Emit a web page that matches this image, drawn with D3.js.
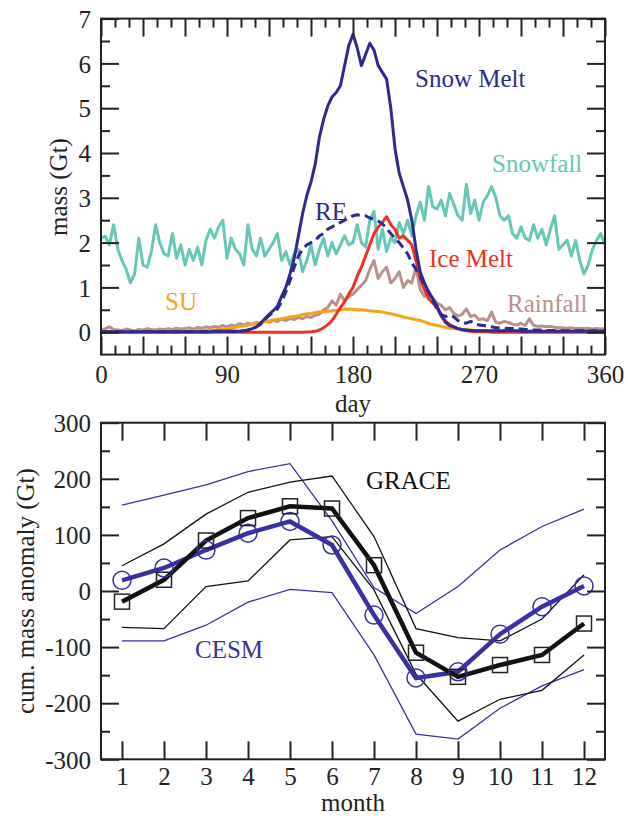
<!DOCTYPE html>
<html>
<head>
<meta charset="utf-8">
<script src="https://cdn.jsdelivr.net/npm/d3@7"></script>
<style>
  body { margin: 0; background: #fff; }
  text { font-family: "Liberation Serif", "Times New Roman", serif; }
</style>
</head>
<body>
<div class="start"></div>
<script>
// ---- top panel: daily mass fluxes (sampled every 3 days) ----
var days = d3.range(0, 361, 3);

var snowfall = [
  2.1, 2.14, 1.95, 2.4, 1.85, 1.6, 1.4, 1.1, 1.3, 2.1,
  1.5, 1.45, 1.8, 2.4, 2.0, 1.75, 1.7, 2.2, 1.65, 1.95,
  1.5, 1.85, 1.6, 1.9, 1.5, 2.05, 2.3, 2.1, 2.35, 2.5,
  1.65, 2.1, 1.85, 1.75, 1.5, 2.4, 1.85, 1.7, 2.1, 1.7,
  1.85, 2.0, 2.2, 1.6, 1.8, 1.5, 1.75, 1.85, 1.35, 1.6,
  1.95, 1.5, 1.85, 2.1, 1.7, 2.0, 1.75, 1.95, 2.15, 1.95,
  2.0, 2.4, 2.0, 1.9, 2.5, 2.7, 1.85, 2.3, 1.8, 2.1,
  2.0, 2.45, 2.2, 2.5, 2.15, 2.6, 2.9, 2.5, 3.25, 2.8,
  2.75, 2.95, 2.6, 3.1, 2.85, 2.6, 2.5, 3.3, 2.65, 2.95,
  2.5, 2.9, 3.05, 3.25, 3.0, 2.6, 2.5, 2.6, 2.2, 2.1,
  2.35, 2.1, 2.05, 2.4, 2.1, 2.3, 1.95, 2.3, 2.6, 1.85,
  1.95, 2.05, 1.7, 2.05, 1.6, 1.3, 1.5, 1.85, 2.05, 2.2,
  1.95
];

var snowMelt = [
  0.01, 0.01, 0.01, 0.01, 0.01, 0.01, 0.01, 0.01, 0.01, 0.01,
  0.01, 0.01, 0.01, 0.01, 0.01, 0.01, 0.01, 0.01, 0.01, 0.01,
  0.01, 0.01, 0.01, 0.01, 0.01, 0.01, 0.01, 0.02, 0.02, 0.02,
  0.02, 0.02, 0.02, 0.02, 0.03, 0.05, 0.08, 0.12, 0.2, 0.3,
  0.4, 0.48, 0.58, 0.8, 1.0, 1.3, 1.65, 2.15, 2.65, 3.05,
  3.35, 3.75, 4.35, 4.75, 5.05, 5.25, 5.35, 5.5, 5.95, 6.4,
  6.65, 6.35, 5.95, 6.2, 6.45, 6.3, 5.95, 5.8, 5.65, 5.0,
  4.1, 3.55, 3.25, 2.95, 2.5, 1.85, 1.35, 1.1, 0.9, 0.75,
  0.58, 0.38, 0.22, 0.15, 0.12, 0.08, 0.06, 0.05, 0.04, 0.03,
  0.03, 0.03, 0.03, 0.03, 0.03, 0.03, 0.03, 0.03, 0.03, 0.03,
  0.02, 0.02, 0.02, 0.02, 0.02, 0.02, 0.02, 0.02, 0.02, 0.02,
  0.02, 0.02, 0.02, 0.02, 0.02, 0.02, 0.02, 0.02, 0.02, 0.02,
  0.02
];

var reMelt = [
  0.01, 0.01, 0.01, 0.01, 0.01, 0.01, 0.01, 0.01, 0.01, 0.01,
  0.01, 0.01, 0.01, 0.01, 0.01, 0.01, 0.01, 0.01, 0.01, 0.01,
  0.01, 0.01, 0.01, 0.01, 0.01, 0.01, 0.01, 0.02, 0.02, 0.02,
  0.02, 0.02, 0.02, 0.02, 0.03, 0.05, 0.08, 0.12, 0.18, 0.28,
  0.37, 0.45, 0.52, 0.68, 0.9, 1.15, 1.45, 1.7, 1.85, 1.95,
  2.0, 2.05, 2.15, 2.2, 2.3, 2.35, 2.4, 2.45, 2.5, 2.55,
  2.6, 2.62, 2.6, 2.6, 2.55, 2.52, 2.48, 2.42, 2.32, 2.2,
  2.1, 2.0, 1.88, 1.75, 1.55, 1.4, 1.25, 1.05, 0.9, 0.7,
  0.52, 0.4, 0.35, 0.38, 0.34, 0.26, 0.22, 0.2, 0.24, 0.2,
  0.16, 0.15, 0.14, 0.12, 0.1, 0.1, 0.09, 0.08, 0.08, 0.07,
  0.07, 0.06, 0.06, 0.05, 0.05, 0.05, 0.04, 0.04, 0.04, 0.04,
  0.03, 0.03, 0.03, 0.03, 0.03, 0.03, 0.03, 0.03, 0.03, 0.03,
  0.03
];

var iceMelt = [
  0, 0, 0, 0, 0, 0, 0, 0, 0, 0,
  0, 0, 0, 0, 0, 0, 0, 0, 0, 0,
  0, 0, 0, 0, 0, 0, 0, 0, 0, 0,
  0, 0, 0, 0, 0, 0, 0, 0, 0, 0,
  0, 0, 0, 0, 0, 0, 0, 0, 0, 0.005,
  0.01, 0.02, 0.05, 0.1, 0.17, 0.26, 0.4, 0.55, 0.68, 0.85,
  1.0, 1.25, 1.45, 1.7, 1.95, 2.2, 2.35, 2.45, 2.58, 2.4,
  2.3, 2.1, 2.15, 2.05, 1.95, 1.6, 1.2, 0.95, 0.75, 0.65,
  0.55, 0.36, 0.25, 0.17, 0.12, 0.08, 0.05, 0.03, 0.02, 0.01,
  0.01, 0.01, 0.01, 0, 0, 0, 0, 0, 0, 0,
  0, 0, 0, 0, 0, 0, 0, 0, 0, 0,
  0, 0, 0, 0, 0, 0, 0, 0, 0, 0,
  0
];

var rainfall = [
  0.05, 0.08, 0.12, 0.06, 0.05, 0.04, 0.07, 0.05, 0.03, 0.06,
  0.05, 0.08, 0.06, 0.05, 0.07, 0.06, 0.08, 0.06, 0.09, 0.07,
  0.08, 0.1, 0.07, 0.11, 0.09, 0.12, 0.1, 0.13, 0.11, 0.15,
  0.12, 0.16, 0.14, 0.19, 0.16, 0.2, 0.18, 0.22, 0.2, 0.25,
  0.22, 0.27, 0.24, 0.29, 0.26, 0.31, 0.28, 0.33, 0.3, 0.35,
  0.33, 0.38, 0.4, 0.5, 0.55, 0.7, 0.6, 0.85, 0.7, 0.8,
  0.85, 0.95, 1.05, 1.15, 1.4, 1.6, 1.2, 1.35, 1.45, 1.1,
  1.2, 1.35, 1.0, 1.15, 1.1, 1.45, 0.95, 0.8, 0.85, 0.75,
  0.65, 0.6, 0.5, 0.55, 0.42, 0.36, 0.4, 0.52, 0.35, 0.38,
  0.28, 0.3, 0.26, 0.45, 0.22, 0.2, 0.24, 0.22, 0.18, 0.16,
  0.2, 0.15, 0.3, 0.15, 0.13, 0.14, 0.12, 0.13, 0.11, 0.1,
  0.1, 0.09, 0.1, 0.08, 0.09, 0.08, 0.09, 0.07, 0.08, 0.07,
  0.08
];

var sublimation = [
  0.01, 0.02, 0.01, 0.02, 0.01, 0.02, 0.01, 0.01, 0.02, 0.01,
  0.01, 0.02, 0.01, 0.02, 0.02, 0.01, 0.02, 0.02, 0.01, 0.02,
  0.02, 0.02, 0.03, 0.03, 0.04, 0.04, 0.05, 0.05, 0.06, 0.07,
  0.08, 0.09, 0.11, 0.13, 0.14, 0.16, 0.18, 0.19, 0.21, 0.23,
  0.25, 0.27, 0.29, 0.3, 0.32, 0.34, 0.35, 0.37, 0.39, 0.41,
  0.42, 0.44, 0.45, 0.46, 0.47, 0.48, 0.49, 0.5, 0.51, 0.52,
  0.51, 0.5, 0.5, 0.49, 0.48, 0.47, 0.46, 0.45, 0.43, 0.41,
  0.39, 0.37, 0.34, 0.32, 0.3, 0.28, 0.26, 0.23, 0.2, 0.17,
  0.15, 0.13, 0.11, 0.09, 0.08, 0.07, 0.06, 0.05, 0.05, 0.04,
  0.04, 0.03, 0.03, 0.03, 0.02, 0.02, 0.02, 0.02, 0.02, 0.02,
  0.02, 0.01, 0.01, 0.01, 0.01, 0.01, 0.01, 0.01, 0.01, 0.01,
  0.01, 0.01, 0.01, 0.01, 0.01, 0.01, 0.01, 0.01, 0.01, 0.01,
  0.01
];

var dayTicks = [0, 90, 180, 270, 360];
var massTicks = [0, 1, 2, 3, 4, 5, 6, 7];

// ---- bottom panel: cumulative mass anomaly by month ----
var months = [1, 2, 3, 4, 5, 6, 7, 8, 9, 10, 11, 12];
var graceMean  = [-19, 20, 90, 130, 151, 147, 46, -110, -153, -132, -114, -58];
var graceUpper = [45, 84, 137, 176, 194, 205, 97, -67, -83, -89, -50, 29];
var graceLower = [-65, -67, 8, 18, 91, 97, 2, -148, -232, -193, -177, -114];
var cesmMean   = [19, 41, 73, 103, 124, 82, -43, -155, -144, -77, -28, 9];
var cesmUpper  = [153, 171, 189, 213, 227, 125, 6, -40, 8, 73, 115, 146];
var cesmLower  = [-89, -89, -61, -20, 3, -3, -114, -255, -264, -209, -169, -140];
var anomalyTicks = [-300, -200, -100, 0, 100, 200, 300];

var navy = '#2f2a8f', teal = '#66c7b7', red = '#ee3124',
    rosy = '#b9918c', orange = '#f8a11b', cesmBlue = '#3a31a0';

var svg = d3.select('.start')
  .append('svg')
  .attr('width', 628)
  .attr('height', 816);

var L = 101, R = 605, FS = 25;

function frame(top, bottom, x, y, xMajor, xMinor, xLabels, yMajor, yMinor, xPad) {
  var g = svg.append('g');
  var fmtX = function(d) { return xLabels.indexOf(d) >= 0 ? String(d) : ''; };
  var fmtY = function(d) { return String(d); };   // plain hyphen for negatives

  g.append('g').attr('transform', 'translate(0,' + bottom + ')')
    .call(d3.axisBottom(x).tickValues(xMajor).tickSize(-18).tickPadding(xPad).tickFormat(fmtX));
  g.append('g').attr('transform', 'translate(0,' + top + ')')
    .call(d3.axisTop(x).tickValues(xMajor).tickSize(-18).tickFormat(''));
  g.append('g').attr('class', 'yleft').attr('transform', 'translate(' + L + ',0)')
    .call(d3.axisLeft(y).tickValues(yMajor).tickSize(-18).tickPadding(10).tickFormat(fmtY));
  g.append('g').attr('transform', 'translate(' + R + ',0)')
    .call(d3.axisRight(y).tickValues(yMajor).tickSize(-18).tickFormat(''));
  if (xMinor.length) {
    g.append('g').attr('transform', 'translate(0,' + bottom + ')')
      .call(d3.axisBottom(x).tickValues(xMinor).tickSize(-9).tickFormat(''));
    g.append('g').attr('transform', 'translate(0,' + top + ')')
      .call(d3.axisTop(x).tickValues(xMinor).tickSize(-9).tickFormat(''));
  }
  g.append('g').attr('transform', 'translate(' + L + ',0)')
    .call(d3.axisLeft(y).tickValues(yMinor).tickSize(-9).tickFormat(''));
  g.append('g').attr('transform', 'translate(' + R + ',0)')
    .call(d3.axisRight(y).tickValues(yMinor).tickSize(-9).tickFormat(''));

  g.selectAll('.domain').remove();
  g.selectAll('.tick line').attr('stroke', '#222').attr('stroke-width', 2);
  g.selectAll('.tick text')
    .attr('fill', '#222')
    .style('font-family', '"Liberation Serif", serif')
    .style('font-size', FS + 'px');
  g.select('.yleft').selectAll('.tick text').attr('dy', '0.35em');

  g.append('rect')
    .attr('x', L).attr('y', top)
    .attr('width', R - L).attr('height', bottom - top)
    .attr('fill', 'none').attr('stroke', '#222').attr('stroke-width', 2);
  return g;
}

function label(txt, x, y, color) {
  svg.append('text').attr('x', x).attr('y', y)
    .attr('fill', color).style('font-size', FS + 'px').text(txt);
}

// ================= top panel =================
var T1 = 18.6, B1 = 354.6;
var xDay = d3.scaleLinear().domain([0, 360]).range([L, R]);
var yMass = d3.scaleLinear().domain([-0.5, 7]).range([B1, T1]);

var dayLine = d3.line()
  .x(function(d, i) { return xDay(days[i]); })
  .y(function(d) { return yMass(d); });

var topSeries = [
  { vals: snowfall, color: teal },
  { vals: rainfall, color: rosy },
  { vals: sublimation, color: orange },
  { vals: iceMelt, color: red },
  { vals: reMelt, color: navy, dash: '9,5' },
  { vals: snowMelt, color: navy }
];

svg.append('g').selectAll('path')
  .data(topSeries)
  .enter()
  .append('path')
  .attr('d', function(d) { return dayLine(d.vals); })
  .attr('fill', 'none')
  .attr('stroke', function(d) { return d.color; })
  .attr('stroke-width', 3)
  .attr('stroke-linejoin', 'round')
  .attr('stroke-dasharray', function(d) { return d.dash || null; });

frame(T1, B1, xDay, yMass,
  d3.range(0, 361, 30), d3.range(10, 360, 10).filter(function(d) { return d % 30 !== 0; }),
  dayTicks, massTicks, [0.5, 1.5, 2.5, 3.5, 4.5, 5.5, 6.5], 11);

label('Snow Melt', 415, 87, navy);
label('Snowfall', 492, 172, teal);
label('RE', 315, 220, navy);
label('Ice Melt', 429, 267, red);
label('Rainfall', 507, 312, rosy);
label('SU', 165, 310, orange);

svg.append('text')
  .attr('transform', 'translate(353,412)')
  .attr('text-anchor', 'middle').attr('fill', '#222')
  .style('font-size', FS + 'px').text('day');
svg.append('text')
  .attr('transform', 'translate(67,187) rotate(-90)')
  .attr('text-anchor', 'middle').attr('fill', '#222')
  .style('font-size', FS + 'px').text('mass (Gt)');

// ================= bottom panel =================
var T2 = 422.7, B2 = 759.3;
var xMonth = d3.scaleLinear().domain([0.5, 12.5]).range([L, R]);
var yAnom = d3.scaleLinear().domain([-300, 300]).range([B2, T2]);

var monthLine = d3.line()
  .x(function(d, i) { return xMonth(months[i]); })
  .y(function(d) { return yAnom(d); });

var bottomSeries = [
  { vals: cesmUpper, color: cesmBlue, w: 1.3 },
  { vals: cesmLower, color: cesmBlue, w: 1.3 },
  { vals: graceUpper, color: '#111', w: 1.3 },
  { vals: graceLower, color: '#111', w: 1.3 },
  { vals: cesmMean, color: cesmBlue, w: 4.5 },
  { vals: graceMean, color: '#111', w: 4.5 }
];

svg.append('g').selectAll('path')
  .data(bottomSeries)
  .enter()
  .append('path')
  .attr('d', function(d) { return monthLine(d.vals); })
  .attr('fill', 'none')
  .attr('stroke', function(d) { return d.color; })
  .attr('stroke-width', function(d) { return d.w; })
  .attr('stroke-linejoin', 'miter');

svg.append('g').selectAll('circle')
  .data(cesmMean)
  .enter()
  .append('circle')
  .attr('cx', function(d, i) { return xMonth(months[i]); })
  .attr('cy', function(d) { return yAnom(d); })
  .attr('r', 9)
  .attr('fill', 'none')
  .attr('stroke', cesmBlue)
  .attr('stroke-width', 1.5);

svg.append('g').selectAll('rect')
  .data(graceMean)
  .enter()
  .append('rect')
  .attr('x', function(d, i) { return xMonth(months[i]) - 7.5; })
  .attr('y', function(d) { return yAnom(d) - 7.5; })
  .attr('width', 15)
  .attr('height', 15)
  .attr('fill', 'none')
  .attr('stroke', '#222')
  .attr('stroke-width', 1.5);

frame(T2, B2, xMonth, yAnom, months, [], months,
  anomalyTicks, [-250, -150, -50, 50, 150, 250], 8);

label('GRACE', 366, 489, '#111');
label('CESM', 195, 658, cesmBlue);

svg.append('text')
  .attr('transform', 'translate(353,811)')
  .attr('text-anchor', 'middle').attr('fill', '#222')
  .style('font-size', FS + 'px').text('month');
svg.append('text')
  .attr('transform', 'translate(34,591) rotate(-90)')
  .attr('text-anchor', 'middle').attr('fill', '#222')
  .style('font-size', FS + 'px').text('cum. mass anomaly (Gt)');
</script>
</body>
</html>
